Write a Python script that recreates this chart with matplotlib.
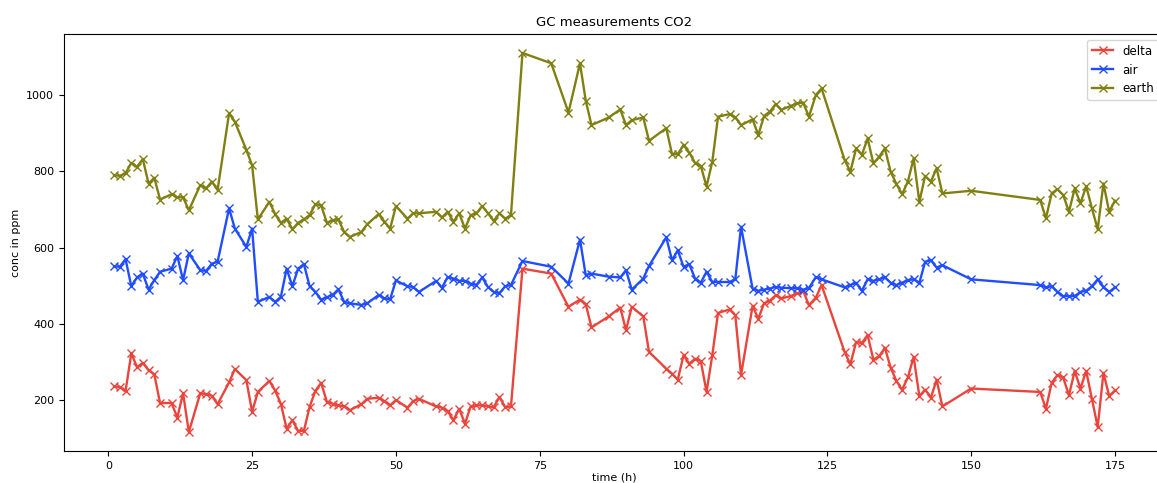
import matplotlib
matplotlib.use("Agg")
import matplotlib.pyplot as plt

# time in hours
t_a = [1, 2, 3, 4, 5, 6, 7, 8, 9, 11, 12, 13, 14, 16, 17, 18, 19, 21, 22, 24]
t_b = [25, 26, 28, 29, 30, 31, 32, 33, 34, 35, 36, 37, 38, 39, 40, 41, 42, 44, 45, 47, 48, 49, 50]
t_c = [52, 53, 54, 57, 58, 59, 60, 61, 62, 63, 64, 65, 66, 67, 68, 69, 70, 72]
t_d = [77, 80, 82, 83, 84, 87, 89, 90, 91, 93, 94, 97, 98, 99, 100]
t_e = [101, 102, 103, 104, 105, 106, 108, 109, 110, 112, 113, 114, 115, 116, 117,
       118.6, 119.8, 120.8, 121.8, 123, 124]
t_f = [128, 129, 130, 131, 132, 133, 134, 135, 136, 137, 138, 139, 140, 141, 142,
       143, 144, 145, 150]
t_g = [162, 163, 164, 165, 166, 167, 168, 169, 170, 171, 172, 173, 174, 175]
time_h = t_a + t_b + t_c + t_d + t_e + t_f + t_g

delta = [237, 235, 224, 323, 287, 298, 279, 268, 193, 193, 155, 219, 117, 219, 216, 212, 190, 247, 282, 253,
         170, 222, 251, 226, 191, 126, 148, 120, 120, 183, 225, 246, 196, 191, 187, 184, 174, 190, 204, 207, 198, 187, 201,
         181, 198, 204, 184, 181, 172, 148, 178, 139, 184, 187, 187, 184, 182, 209, 182, 184, 545,
         532, 445, 464, 452, 391, 420, 443, 384, 445, 420, 327, 283, 270, 254, 318,
         296, 309, 303, 222, 318, 429, 438, 423, 266, 447, 414, 454, 461, 475, 467, 473, 480, 487, 449, 469, 502,
         327, 294, 353, 350, 371, 307, 315, 338, 286, 251, 228, 260, 314, 211, 228, 207, 254, 184, 231,
         222, 178, 246, 266, 260, 213, 277, 231, 277, 204, 130, 272, 211, 226]

air = [551, 550, 570, 499, 522, 532, 490, 515, 537, 545, 578, 515, 585, 541, 539, 558, 563, 703, 650, 602,
       650, 458, 471, 458, 471, 545, 499, 545, 557, 499, 484, 464, 470, 476, 491, 458, 454, 450, 454, 476, 467, 465, 514,
       499, 497, 484, 513, 495, 523, 519, 513, 513, 506, 502, 522, 497, 484, 481, 499, 502, 565,
       550, 506, 621, 528, 532, 524, 522, 541, 490, 519, 552, 627, 567, 593, 550,
       557, 519, 508, 537, 510, 510, 510, 517, 655, 493, 487, 490, 493, 497, 495, 494, 494, 490, 494, 523, 517,
       496, 502, 508, 487, 517, 513, 517, 522, 508, 502, 508, 515, 517, 508, 563, 567, 548, 554, 517,
       502, 496, 499, 484, 473, 473, 473, 484, 487, 499, 517, 497, 484, 496]

earth = [790, 788, 795, 822, 812, 832, 768, 783, 726, 740, 732, 732, 698, 764, 755, 773, 751, 952, 930, 856,
         816, 674, 720, 688, 665, 676, 648, 665, 674, 685, 714, 711, 665, 672, 674, 641, 628, 641, 661, 688, 668, 650, 709,
         676, 690, 690, 694, 679, 694, 668, 690, 650, 685, 690, 709, 690, 670, 690, 676, 685, 1110,
         1083, 954, 1083, 985, 921, 941, 962, 921, 934, 941, 880, 913, 845, 845, 869,
         849, 822, 814, 760, 825, 943, 950, 941, 921, 936, 895, 945, 956, 976, 961, 971, 978, 980, 943, 1000, 1017,
         830, 799, 860, 843, 886, 821, 838, 860, 799, 767, 740, 773, 834, 720, 788, 773, 808, 742, 749,
         725, 677, 742, 753, 738, 694, 755, 716, 761, 703, 648, 768, 694, 723]

labels = ["delta", "air", "earth"]
colors = ["#e8453c", "#1f4dff", "#808012"]

fig = plt.figure(figsize=(11.57, 4.83), dpi=100)
ax = fig.add_axes([64 / 1157, 1 - 451 / 483, 1101 / 1157, 417 / 483])

for series, lab, col in zip([delta, air, earth], labels, colors):
    ax.plot(time_h, series, marker="x", color=col, label=lab, linewidth=1.7, markersize=6)

ax.set_xticks([0, 25, 50, 75, 100, 125, 150, 175])
ax.set_yticks([200, 400, 600, 800, 1000])
ax.tick_params(labelsize=8)
ax.set_title("GC measurements CO2", fontsize=9.5)
ax.set_xlabel("time (h)", fontsize=8, labelpad=1)
ax.set_ylabel("conc in ppm", fontsize=8)
ax.legend(loc="upper right", fontsize=8.5, handlelength=1.8)

fig.savefig("out.png", dpi=100)
